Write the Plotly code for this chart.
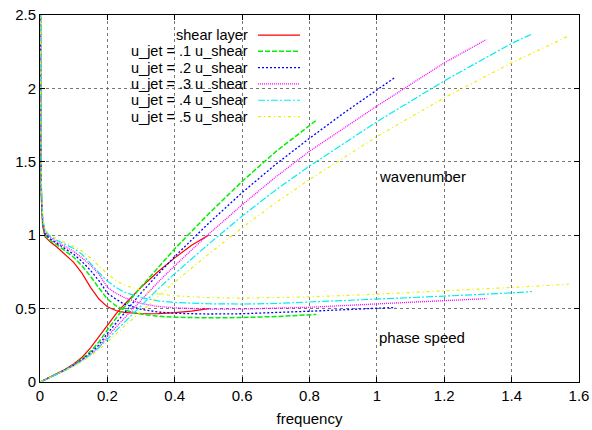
import plotly.graph_objects as go

# ---------------- data ----------------
series_names = ["shear layer", "u_jet = .1 u_shear", "u_jet = .2 u_shear",
                "u_jet = .3 u_shear", "u_jet = .4 u_shear", "u_jet = .5 u_shear"]

freq_red = [0.0005, 0.001, 0.002, 0.004, 0.008, 0.015, 0.03, 0.05, 0.075, 0.1, 0.125,
            0.15, 0.175, 0.2, 0.225, 0.25, 0.3, 0.35, 0.4, 0.45, 0.5]
speed_red = [5.0, 2.8, 1.7, 1.25, 1.06, 0.99, 0.955, 0.92, 0.87, 0.815, 0.74,
             0.645, 0.565, 0.512, 0.487, 0.474, 0.465, 0.466, 0.473, 0.483, 0.5]
wave_red = [0.0001, 0.00036, 0.0012, 0.0032, 0.0075, 0.0152, 0.0314, 0.0543, 0.0862, 0.1227, 0.1689,
            0.2326, 0.3097, 0.3906, 0.462, 0.5274, 0.6452, 0.7511, 0.8457, 0.9317, 1.0]

freq_1 = [0.0005, 0.001, 0.002, 0.004, 0.008, 0.015, 0.03, 0.05, 0.075, 0.1, 0.125,
          0.15, 0.175, 0.2, 0.225, 0.25, 0.3, 0.35, 0.4, 0.5, 0.6, 0.7, 0.82]
speed_1 = [5.2, 2.9, 1.75, 1.28, 1.08, 1.0, 0.965, 0.935, 0.895, 0.85, 0.79,
           0.72, 0.64, 0.565, 0.52, 0.49, 0.463, 0.448, 0.441, 0.437, 0.439, 0.446, 0.46]
wave_1 = [0.0001, 0.00034, 0.00114, 0.0031, 0.0074, 0.015, 0.0311, 0.0535, 0.0838, 0.1176, 0.1582,
          0.2083, 0.2734, 0.354, 0.4327, 0.5102, 0.648, 0.7813, 0.907, 1.1442, 1.3667, 1.5695, 1.7826]

freq_2 = [0.0005, 0.001, 0.002, 0.004, 0.008, 0.015, 0.03, 0.05, 0.075, 0.1, 0.125,
          0.15, 0.175, 0.2, 0.225, 0.25, 0.3, 0.35, 0.4, 0.5, 0.6, 0.7, 0.8, 0.9, 1.0, 1.055]
speed_2 = [5.4, 3.0, 1.8, 1.3, 1.09, 1.01, 0.975, 0.945, 0.91, 0.87, 0.82,
           0.76, 0.69, 0.605, 0.565, 0.53, 0.495, 0.477, 0.468, 0.463, 0.465, 0.472, 0.482, 0.492, 0.502, 0.508]
wave_2 = [0.0001, 0.00033, 0.0011, 0.0031, 0.0073, 0.0149, 0.0308, 0.0529, 0.0824, 0.1149, 0.1524,
          0.1974, 0.2536, 0.3306, 0.3982, 0.4717, 0.6061, 0.7338, 0.8547, 1.0799, 1.2903, 1.4831,
          1.6598, 1.8293, 1.992, 2.0768]

freq_3 = [0.0005, 0.001, 0.002, 0.004, 0.008, 0.015, 0.03, 0.05, 0.075, 0.1, 0.125,
          0.15, 0.175, 0.2, 0.225, 0.25, 0.3, 0.35, 0.4, 0.5, 0.6, 0.7, 0.8, 1.0, 1.2, 1.325]
speed_3 = [5.6, 3.1, 1.85, 1.32, 1.1, 1.02, 0.985, 0.955, 0.925, 0.89, 0.845,
           0.795, 0.735, 0.645, 0.605, 0.575, 0.535, 0.515, 0.505, 0.497, 0.497, 0.501, 0.509,
           0.532, 0.552, 0.568]
wave_3 = [0.00009, 0.00032, 0.00108, 0.003, 0.0073, 0.0147, 0.0305, 0.0524, 0.0811, 0.1124, 0.1479,
          0.1887, 0.2381, 0.3101, 0.3719, 0.4348, 0.5607, 0.6796, 0.7921, 1.006, 1.2072, 1.3972,
          1.5717, 1.8797, 2.1739, 2.3327]

freq_4 = [0.0005, 0.001, 0.002, 0.004, 0.008, 0.015, 0.03, 0.05, 0.075, 0.1, 0.125,
          0.15, 0.175, 0.2, 0.225, 0.25, 0.3, 0.35, 0.4, 0.5, 0.6, 0.7, 0.8, 1.0, 1.2, 1.4, 1.46]
speed_4 = [5.8, 3.2, 1.9, 1.34, 1.11, 1.03, 0.993, 0.965, 0.94, 0.91, 0.87,
           0.805, 0.745, 0.687, 0.645, 0.613, 0.575, 0.553, 0.542, 0.533, 0.531, 0.535, 0.544,
           0.564, 0.585, 0.607, 0.616]
wave_4 = [0.00009, 0.00031, 0.00105, 0.003, 0.0072, 0.0146, 0.0302, 0.0518, 0.0798, 0.1099, 0.1437,
          0.1863, 0.2349, 0.2911, 0.3488, 0.4078, 0.5217, 0.6329, 0.738, 0.9381, 1.13, 1.3084,
          1.4706, 1.773, 2.0513, 2.3064, 2.3701]

freq_5 = [0.0005, 0.001, 0.002, 0.004, 0.008, 0.015, 0.03, 0.05, 0.075, 0.1, 0.125,
          0.15, 0.175, 0.2, 0.225, 0.25, 0.3, 0.35, 0.4, 0.5, 0.6, 0.7, 0.8, 1.0, 1.2, 1.4, 1.57]
speed_5 = [6.0, 3.3, 1.95, 1.36, 1.12, 1.04, 1.0, 0.975, 0.95, 0.925, 0.89,
           0.845, 0.79, 0.737, 0.693, 0.66, 0.625, 0.6, 0.587, 0.575, 0.571, 0.573, 0.58,
           0.598, 0.62, 0.644, 0.666]
wave_5 = [0.00008, 0.0003, 0.00103, 0.0029, 0.0071, 0.0144, 0.03, 0.0513, 0.0789, 0.1081, 0.1404,
          0.1775, 0.2215, 0.2714, 0.3247, 0.3788, 0.48, 0.5833, 0.6814, 0.8696, 1.0508, 1.2216,
          1.3793, 1.6722, 1.9355, 2.1739, 2.3574]

x_ticks = [0, 0.2, 0.4, 0.6, 0.8, 1, 1.2, 1.4, 1.6]
y_ticks = [0, 0.5, 1, 1.5, 2, 2.5]

# ---------------- styles ----------------
colors = ["#ff0000", "#00ee00", "#0000ff", "#ff00ff", "#00eeee", "#eeee00"]
dashes = ["solid", "5px,2px", "2px,2px", "1px,1px", "7px,2px,2px,2px", "3px,3px,1px,3px"]
widths = [1.2, 1.5, 1.3, 1.3, 1.2, 1.2]

freqs = [freq_red, freq_1, freq_2, freq_3, freq_4, freq_5]
speeds = [speed_red, speed_1, speed_2, speed_3, speed_4, speed_5]
waves = [wave_red, wave_1, wave_2, wave_3, wave_4, wave_5]

fig = go.Figure()
for name, f, c, k, col, d, w in zip(series_names, freqs, speeds, waves, colors, dashes, widths):
    xs = [0.0] + list(f) + [None] + list(f)
    ys = [0.0] + list(k) + [None] + list(c)
    fig.add_trace(go.Scatter(x=xs, y=ys, mode="lines", name=name, showlegend=False,
                             line=dict(color=col, dash=d, width=w), connectgaps=False))

FONT = "Liberation Sans, Arial, Helvetica, sans-serif"
FS = 15
LFS = 14.5

# custom gnuplot-style legend (text on the left, sample on the right)
shapes = [dict(type="rect", xref="x", yref="y", x0=0.125, x1=0.795, y0=1.76, y1=2.44,
               fillcolor="white", line=dict(width=0), layer="below")]
annotations = []
row_y = [0.9454, 0.9010, 0.8565, 0.8121, 0.7677, 0.7233]
for name, col, d, w, ry in zip(series_names, colors, dashes, widths, row_y):
    annotations.append(dict(xref="paper", yref="paper", x=0.389, y=ry, text=name,
                            showarrow=False, xanchor="right", yanchor="middle",
                            font=dict(family=FONT, size=LFS, color="#000")))
    shapes.append(dict(type="line", xref="paper", yref="paper", x0=0.4045, x1=0.4824,
                       y0=ry, y1=ry, line=dict(color=col, dash=d, width=w), layer="above"))

annotations.append(dict(x=1.0, y=1.40, text="wavenumber", showarrow=False, xanchor="left",
                        yanchor="middle", font=dict(family=FONT, size=FS, color="#000")))
annotations.append(dict(x=1.0, y=0.30, text="phase speed", showarrow=False, xanchor="left",
                        yanchor="middle", font=dict(family=FONT, size=FS, color="#000")))

axis_common = dict(showline=True, linecolor="black", linewidth=1, mirror="allticks",
                   ticks="inside", ticklen=5, tickcolor="black", tickwidth=1,
                   showgrid=True, gridcolor="#777777", griddash="dot", gridwidth=1,
                   zeroline=False, automargin=False,
                   tickfont=dict(family=FONT, size=FS, color="#000"))

fig.update_layout(
    width=592, height=430,
    margin=dict(l=40, r=13, t=15, b=48, autoexpand=False),
    paper_bgcolor="white", plot_bgcolor="white",
    showlegend=False,
    font=dict(family=FONT, size=FS, color="#000"),
    xaxis=dict(range=[0, 1.6], tickvals=x_ticks, ticktext=[f"{v:g}" for v in x_ticks],
               title=dict(text="frequency", font=dict(family=FONT, size=FS), standoff=10),
               **axis_common),
    yaxis=dict(range=[0, 2.5], tickvals=y_ticks, ticktext=[f"{v:g}" for v in y_ticks],
               **axis_common),
    shapes=shapes,
    annotations=annotations,
)

fig.write_html("out.html")
